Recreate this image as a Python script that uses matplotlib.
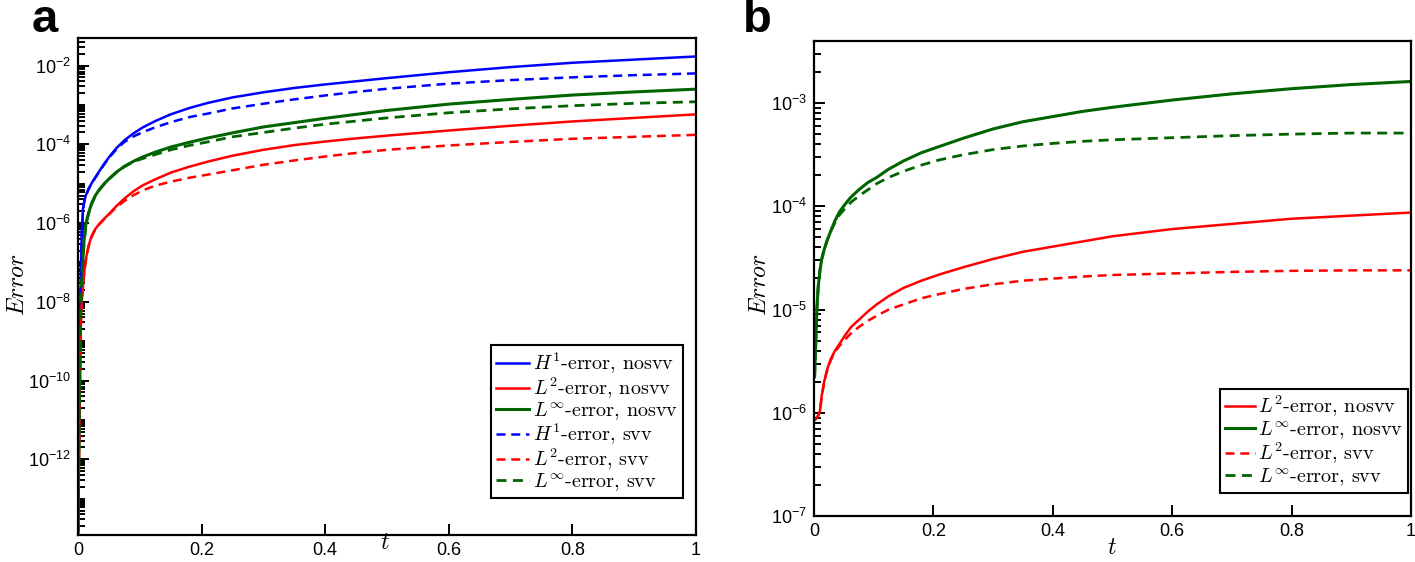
import numpy as np
import matplotlib
matplotlib.use("Agg")
import matplotlib.pyplot as plt
from matplotlib.ticker import FixedLocator, LogLocator, LogFormatterSciNotation, NullFormatter

plt.rcParams['font.family'] = ['Liberation Sans', 'DejaVu Sans']
plt.rcParams['mathtext.fontset'] = 'cm'

# ---------------- Panel a data (values given as log10 of the error) ----------------
t_a = [0.0, 0.001, 0.002, 0.003, 0.004, 0.005, 0.006, 0.008, 0.010, 0.013, 0.017, 0.022, 0.028, 0.035,
       0.043, 0.052, 0.062, 0.075, 0.09, 0.105, 0.125, 0.15, 0.18, 0.21, 0.25, 0.3, 0.35, 0.4, 0.45, 0.5,
       0.6, 0.7, 0.8, 0.9, 1.0]

log_a_H1_nosvv = [-13.85, -12.0, -10.5, -9.0, -7.9, -7.0, -6.3, -5.65, -5.45, -5.28, -5.13, -4.99, -4.84, -4.67,
                  -4.48, -4.29, -4.10, -3.90, -3.72, -3.57, -3.41, -3.24, -3.08, -2.95, -2.81, -2.68, -2.57,
                  -2.48, -2.40, -2.32, -2.17, -2.04, -1.93, -1.85, -1.77]
log_a_H1_svv = [-13.85, -12.1, -10.6, -9.1, -8.0, -7.1, -6.4, -5.7, -5.47, -5.30, -5.15, -5.00, -4.85, -4.68,
                -4.50, -4.31, -4.13, -3.94, -3.80, -3.69, -3.57, -3.44, -3.31, -3.22, -3.09, -2.97, -2.86,
                -2.76, -2.67, -2.59, -2.46, -2.37, -2.30, -2.245, -2.20]
log_a_L2_nosvv = [-13.85, -12.6, -11.3, -10.0, -8.9, -8.3, -8.0, -7.6, -7.25, -6.9, -6.58, -6.33, -6.15, -6.01,
                  -5.88, -5.74, -5.57, -5.38, -5.19, -5.04, -4.89, -4.72, -4.57, -4.44, -4.29, -4.14, -4.02,
                  -3.93, -3.85, -3.78, -3.65, -3.53, -3.42, -3.33, -3.24]
log_a_L2_svv = [-13.85, -12.7, -11.4, -10.1, -9.0, -8.4, -8.05, -7.65, -7.28, -6.92, -6.6, -6.35, -6.16, -6.02,
                -5.89, -5.75, -5.60, -5.44, -5.29, -5.17, -5.05, -4.95, -4.85, -4.77, -4.66, -4.52, -4.41,
                -4.31, -4.22, -4.14, -4.03, -3.94, -3.86, -3.81, -3.76]
log_a_Linf_nosvv = [-13.85, -12.3, -10.8, -9.6, -8.5, -7.8, -7.4, -6.9, -6.4, -6.0, -5.75, -5.5, -5.30, -5.14,
                    -4.99, -4.85, -4.71, -4.56, -4.43, -4.32, -4.20, -4.07, -3.95, -3.84, -3.71, -3.56, -3.45,
                    -3.34, -3.24, -3.14, -2.98, -2.86, -2.75, -2.67, -2.60]
log_a_Linf_svv = [-13.85, -12.4, -10.9, -9.7, -8.6, -7.9, -7.45, -6.95, -6.45, -6.03, -5.77, -5.52, -5.31, -5.15,
                  -5.00, -4.86, -4.72, -4.57, -4.44, -4.36, -4.26, -4.14, -4.03, -3.94, -3.81, -3.70, -3.59,
                  -3.49, -3.41, -3.33, -3.20, -3.10, -3.02, -2.96, -2.92]

# ---------------- Panel b data (log10 of the error) ----------------
t_b = [0.001, 0.003, 0.005, 0.007, 0.01, 0.013, 0.017, 0.022, 0.028, 0.035, 0.043, 0.052, 0.062, 0.075,
       0.09, 0.105, 0.125, 0.15, 0.18, 0.21, 0.25, 0.3, 0.35, 0.4, 0.45, 0.5, 0.6, 0.7, 0.8, 0.9, 1.0]

log_b_L2_nosvv = [-6.07, -6.06, -6.04, -6.03, -5.98, -5.83, -5.70, -5.58, -5.48, -5.40, -5.33, -5.25, -5.17,
                  -5.10, -5.02, -4.95, -4.87, -4.79, -4.72, -4.66, -4.59, -4.51, -4.44, -4.39, -4.34, -4.29,
                  -4.22, -4.17, -4.12, -4.09, -4.06]
log_b_L2_svv = [-6.07, -6.06, -6.04, -6.03, -5.98, -5.84, -5.71, -5.59, -5.49, -5.41, -5.35, -5.29, -5.23,
                -5.17, -5.11, -5.06, -5.00, -4.95, -4.89, -4.85, -4.80, -4.755, -4.72, -4.70, -4.68, -4.665,
                -4.65, -4.635, -4.625, -4.62, -4.62]
log_b_Linf_nosvv = [-5.65, -5.30, -4.98, -4.78, -4.62, -4.51, -4.42, -4.33, -4.24, -4.14, -4.05, -3.98, -3.91,
                    -3.84, -3.77, -3.72, -3.64, -3.56, -3.48, -3.42, -3.34, -3.25, -3.18, -3.13, -3.08, -3.04,
                    -2.97, -2.91, -2.86, -2.82, -2.79]
log_b_Linf_svv = [-5.65, -5.30, -4.98, -4.78, -4.62, -4.51, -4.42, -4.33, -4.24, -4.16, -4.08, -4.02, -3.96,
                  -3.90, -3.84, -3.78, -3.72, -3.66, -3.60, -3.55, -3.50, -3.45, -3.415, -3.39, -3.37, -3.355,
                  -3.335, -3.315, -3.30, -3.29, -3.29]

x_ticks = [0, 0.2, 0.4, 0.6, 0.8, 1]
x_ticklabels = ['0', '0.2', '0.4', '0.6', '0.8', '1']


def err(log_values):
    return np.power(10.0, np.asarray(log_values))


BLUE = '#0000ff'
RED = '#ff0000'
GREEN = '#006400'
LW = 1.8
DASH = (3.6, 2.3)

fig = plt.figure(figsize=(14.15, 5.62), dpi=100)
W, H = 1415.0, 562.0

ax1 = fig.add_axes([78 / W, (H - 535) / H, 618 / W, 497 / H])
ax2 = fig.add_axes([814 / W, (H - 516) / H, 597 / W, 475 / H])

# Panel a curves
ax1.plot(t_a, err(log_a_H1_nosvv), color=BLUE, lw=LW, label=r'$H^1$-error, nosvv')
ax1.plot(t_a, err(log_a_L2_nosvv), color=RED, lw=LW, label=r'$L^2$-error, nosvv')
ax1.plot(t_a, err(log_a_Linf_nosvv), color=GREEN, lw=LW + 0.4, label=r'$L^\infty$-error, nosvv')
ax1.plot(t_a, err(log_a_H1_svv), color=BLUE, lw=LW, dashes=DASH, label=r'$H^1$-error, svv')
ax1.plot(t_a, err(log_a_L2_svv), color=RED, lw=LW, dashes=DASH, label=r'$L^2$-error, svv')
ax1.plot(t_a, err(log_a_Linf_svv), color=GREEN, lw=LW + 0.2, dashes=DASH, label=r'$L^\infty$-error, svv')

# Panel b curves
ax2.plot(t_b, err(log_b_L2_nosvv), color=RED, lw=LW, label=r'$L^2$-error, nosvv')
ax2.plot(t_b, err(log_b_Linf_nosvv), color=GREEN, lw=LW + 0.4, label=r'$L^\infty$-error, nosvv')
ax2.plot(t_b, err(log_b_L2_svv), color=RED, lw=LW, dashes=DASH, label=r'$L^2$-error, svv')
ax2.plot(t_b, err(log_b_Linf_svv), color=GREEN, lw=LW + 0.2, dashes=DASH, label=r'$L^\infty$-error, svv')

for ax in (ax1, ax2):
    ax.set_yscale('log')
    ax.set_xlim(0, 1)
    ax.set_xticks(x_ticks)
    ax.set_xticklabels(x_ticklabels)
    ax.tick_params(which='both', direction='in', top=False, right=False, labelsize=13, width=1.4)
    ax.tick_params(which='major', length=8, pad=5)
    ax.tick_params(which='minor', length=5)
    for s in ax.spines.values():
        s.set_linewidth(1.6)
        s.set_color('black')

# left panel: labelled ticks every second decade, small ticks elsewhere
major_a = [1e-12, 1e-10, 1e-8, 1e-6, 1e-4, 1e-2]
minor_a = [m * 10.0 ** d for d in range(-14, 0) for m in range(1, 10)
           if not (m == 1 and d in (-12, -10, -8, -6, -4, -2))]
ax1.set_ylim(1.2e-14, 5e-2)
ax1.yaxis.set_major_locator(FixedLocator(major_a))
ax1.yaxis.set_major_formatter(LogFormatterSciNotation())
ax1.yaxis.set_minor_locator(FixedLocator(minor_a))
ax1.yaxis.set_minor_formatter(NullFormatter())

ax2.set_ylim(1e-7, 4e-3)
ax2.yaxis.set_major_locator(LogLocator(base=10, subs=(1.0,), numticks=20))
ax2.yaxis.set_major_formatter(LogFormatterSciNotation())
ax2.yaxis.set_minor_locator(LogLocator(base=10, subs=np.arange(2, 10), numticks=200))
ax2.yaxis.set_minor_formatter(NullFormatter())

leg1 = ax1.legend(loc='lower right', bbox_to_anchor=(0.979, 0.074), borderaxespad=0,
                  prop={'family': 'cmr10', 'size': 14.5},
                  frameon=True, fancybox=False, handlelength=1.65, handletextpad=0.2, labelspacing=-0.02,
                  borderpad=0.25)
leg2 = ax2.legend(loc='lower right', bbox_to_anchor=(0.995, 0.048), borderaxespad=0,
                  prop={'family': 'cmr10', 'size': 14.5},
                  frameon=True, fancybox=False, handlelength=1.5, handletextpad=0.15, labelspacing=0.0,
                  borderpad=0.25)
for leg in (leg1, leg2):
    fr = leg.get_frame()
    fr.set_edgecolor('black')
    fr.set_linewidth(1.5)
    fr.set_alpha(1)

# axis labels
fig.text(18 / W, 1 - 285 / H, r'$Error$', rotation=90, fontsize=17, ha='center', va='center')
fig.text(760 / W, 1 - 285 / H, r'$Error$', rotation=90, fontsize=17, ha='center', va='center')
fig.text(385 / W, 1 - 543 / H, r'$t$', fontsize=17, ha='center', va='center')
fig.text(1112 / W, 1 - 548 / H, r'$t$', fontsize=17, ha='center', va='center')

# panel letters
fig.text(45 / W, 1 - 20 / H, 'a', fontsize=34, fontweight='bold', ha='center', va='center')
fig.text(757 / W, 1 - 20 / H, 'b', fontsize=34, fontweight='bold', ha='center', va='center')

fig.savefig('out.png', dpi=100)
